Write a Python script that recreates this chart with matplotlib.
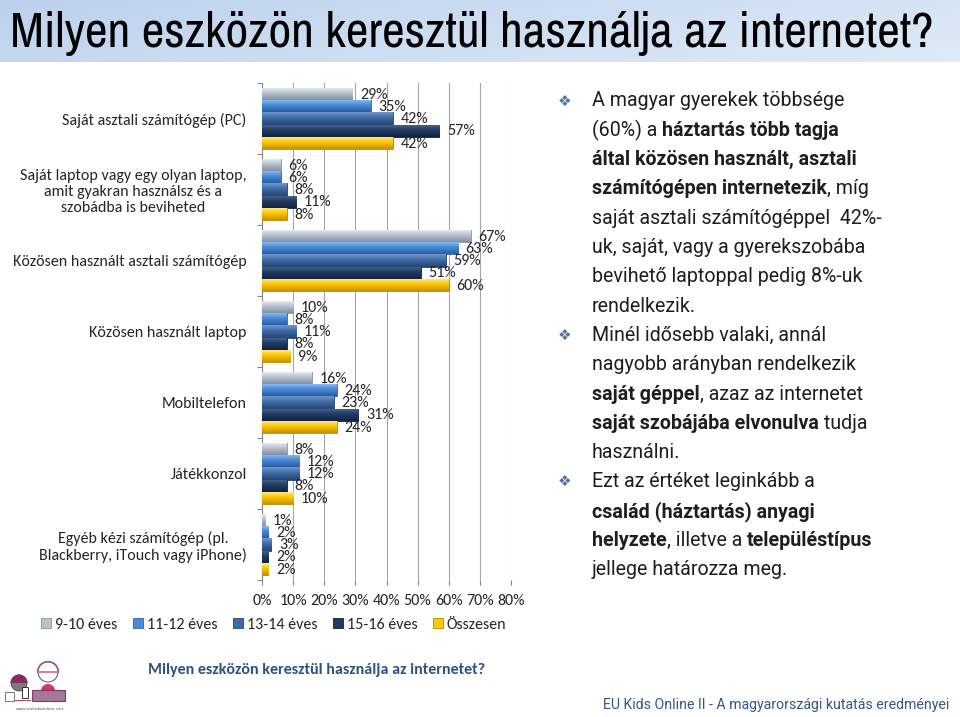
import matplotlib
matplotlib.use('Agg')
import matplotlib.pyplot as plt
import numpy as np
from matplotlib import font_manager
from matplotlib.patches import Patch, Circle, Rectangle, Wedge
from matplotlib.colors import LinearSegmentedColormap

# ---------------- data ----------------
categories = [
    "Saját asztali számítógép (PC)",
    "Saját laptop vagy egy olyan laptop,\namit gyakran használsz és a\nszobádba is beviheted",
    "Közösen használt asztali számítógép",
    "Közösen használt laptop",
    "Mobiltelefon",
    "Játékkonzol",
    "Egyéb kézi számítógép (pl.\nBlackberry, iTouch vagy iPhone)",
]
series_names = ["9-10 éves", "11-12 éves", "13-14 éves", "15-16 éves", "Összesen"]
age_9_10 = [29, 6, 67, 10, 16, 8, 1]
age_11_12 = [35, 6, 63, 8, 24, 12, 2]
age_13_14 = [42, 8, 59, 11, 23, 12, 3]
age_15_16 = [57, 11, 51, 8, 31, 8, 2]
osszesen = [42, 8, 60, 9, 24, 10, 2]
xtick_values = [0, 10, 20, 30, 40, 50, 60, 70, 80]
xtick_labels = ["0%", "10%", "20%", "30%", "40%", "50%", "60%", "70%", "80%"]

title = "Milyen eszközön keresztül használja az internetet?"
footer_title = "Milyen eszközön keresztül használja az internetet?"
footer_right = "EU Kids Online II - A magyarországi kutatás eredményei"

panel = [
    (True, [("A magyar gyerekek többsége", False)]),
    (False, [("(60%) a ", False), ("háztartás több tagja", True)]),
    (False, [("által közösen használt, asztali", True)]),
    (False, [("számítógépen internetezik", True), (", míg", False)]),
    (False, [("saját asztali számítógéppel  42%-", False)]),
    (False, [("uk, saját, vagy a gyerekszobába", False)]),
    (False, [("bevihető laptoppal pedig 8%-uk", False)]),
    (False, [("rendelkezik.", False)]),
    (True, [("Minél idősebb valaki, annál", False)]),
    (False, [("nagyobb arányban rendelkezik", False)]),
    (False, [("saját géppel", True), (", azaz az internetet", False)]),
    (False, [("saját szobájába elvonulva", True), (" tudja", False)]),
    (False, [("használni.", False)]),
    (True, [("Ezt az értéket leginkább a", False)]),
    (False, [("család (háztartás) anyagi", True)]),
    (False, [("helyzete", True), (", illetve a ", False), ("településtípus", True)]),
    (False, [("jellege határozza meg.", False)]),
]

# ---------------- fonts ----------------
available = {f.name for f in font_manager.fontManager.ttflist}
def pick(*names):
    for n in names:
        if n in available:
            return n
    return 'DejaVu Sans'
chart_font = pick('Carlito', 'Lato', 'Open Sans')
title_font = pick('Liberation Sans Narrow', 'Arimo Narrow', 'Archivo Narrow', 'Roboto Condensed')
panel_font = pick('Roboto', 'Liberation Sans')

W, H = 960, 717
fig = plt.figure(figsize=(9.6, 7.17), dpi=100)
renderer = fig.canvas.get_renderer()

def fx(px):
    return px / W
def fy(py):
    return 1 - py / H

# ---------------- title band ----------------
bg = fig.add_axes([0, fy(62), 1, 62 / H], zorder=0)
gx = np.linspace(0, 1, 200)[None, :]
gy = np.linspace(0, 1, 40)[:, None]
c_left = np.array([0.74, 0.82, 0.93])
c_right = np.array([0.87, 0.92, 0.97])
mix = np.clip(0.75 * gx + 0.25 * gy, 0, 1)[..., None]
img = c_left * (1 - mix) + c_right * mix
bg.imshow(img, aspect='auto', extent=[0, 1, 0, 1], interpolation='bilinear')
bg.axis('off')

def fit_text(x, y, s, target_w, **kw):
    t = fig.text(x, y, s, fontsize=20, **kw)
    w = t.get_window_extent(renderer).width
    t.set_fontsize(20 * target_w / w)
    return t

fit_text(fx(10), fy(34), title, 922, family=title_font, va='center', ha='left', color='black')

# ---------------- chart ----------------
FS = 11.5
ax = fig.add_axes([fx(262), fy(580), 249 / W, 497 / H], zorder=2)
data = [age_9_10, age_11_12, age_13_14, age_15_16, osszesen]
grads = [
    ('#eef1f5', '#b9c2d0', '#8390a4'),
    ('#8fc0f4', '#4a8bd8', '#2a5ea6'),
    ('#6f97c9', '#3e6aa5', '#244677'),
    ('#4c6890', '#213c62', '#12243f'),
    ('#fff0a0', '#ffc800', '#c89400'),
]
edges = ['#8a93a3', '#2f65a8', '#23446f', '#0f213a', '#b58a00']
mids = [g[1] for g in grads]
bar_h = 0.173
ypos = np.arange(len(categories))
for i, vals in enumerate(data):
    cm = LinearSegmentedColormap.from_list('g%d' % i, [(0, grads[i][0]), (0.45, grads[i][1]), (1, grads[i][2])])
    yy = ypos + (i - 2) * bar_h
    bars = ax.barh(yy, vals, height=bar_h, color=mids[i], edgecolor=edges[i], linewidth=0.6, zorder=3)
    grad = np.linspace(0, 1, 32)[:, None]
    for b in bars:
        x0, y0 = b.get_x(), b.get_y()
        im = ax.imshow(grad, extent=[x0, x0 + b.get_width(), y0 + b.get_height(), y0],
                       aspect='auto', cmap=cm, origin='upper', zorder=3.5, interpolation='bilinear')
        im.set_clip_path(b)
    for v, y in zip(vals, yy):
        ax.annotate(f"{v}%", xy=(v, y), xytext=(5.5, -0.5), textcoords='offset points',
                    va='center', ha='left', fontsize=FS, color='#262626', family=chart_font, zorder=5)

ax.set_xlim(0, 80)
ax.set_ylim(len(categories) - 0.5, -0.5)
ax.set_xticks(xtick_values)
ax.set_xticklabels(xtick_labels, fontsize=FS, color='#262626', family=chart_font)
ax.set_yticks(ypos)
ax.set_yticklabels(categories, fontsize=FS, color='#262626', family=chart_font, multialignment='center')
ax.set_yticks(np.arange(-0.5, len(categories), 1), minor=True)
ax.tick_params(axis='y', which='major', length=0, pad=11)
ax.tick_params(axis='y', which='minor', length=3.8, color='#868686', width=0.8)
ax.tick_params(axis='x', which='major', length=3.8, color='#868686', width=0.8, pad=6)
ax.xaxis.grid(True, color='#a6a6a6', linewidth=0.8)
ax.set_axisbelow(True)
for s in ['top', 'right', 'bottom']:
    ax.spines[s].set_visible(False)
ax.spines['left'].set_color('#868686')
ax.spines['left'].set_linewidth(0.8)
ax.set_facecolor('none')

handles = [Patch(facecolor=mids[i], edgecolor=edges[i], linewidth=0.6) for i in range(5)]
fig.legend(handles, series_names, loc='center', bbox_to_anchor=(fx(274), fy(625)), ncol=5,
           frameon=False, prop={'family': chart_font, 'size': FS}, labelcolor='#262626',
           handlelength=0.6, handleheight=0.6, handletextpad=0.25, columnspacing=1.0)

# ---------------- right panel ----------------
probe = fig.text(0.5, 0.5, "|", family=panel_font, fontsize=14)
def seg_width(s, size, bold):
    probe.set_fontsize(size)
    probe.set_fontweight('bold' if bold else 'normal')
    probe.set_text("|" + s + "|")
    w1 = probe.get_window_extent(renderer).width
    probe.set_text("||")
    w2 = probe.get_window_extent(renderer).width
    return w1 - w2

ref_w = seg_width("A magyar gyerekek többsége", 14, False)
psize = 14 * 255 / ref_w

line_y0, line_dy = 101, 29.3
for k, (bullet, segs) in enumerate(panel):
    y = line_y0 + k * line_dy
    if bullet:
        fig.text(fx(565), fy(y), "\u2756", family='DejaVu Sans', fontsize=11, color='#4d73a8',
                 ha='center', va='center')
    x = 592
    for s, b in segs:
        fig.text(fx(x), fy(y), s, family=panel_font, fontsize=psize,
                 fontweight='bold' if b else 'normal', color='#1e1e1e', ha='left', va='center')
        x += seg_width(s, psize, b)
probe.remove()

# ---------------- footer ----------------
fit_text(fx(148), fy(670), footer_title, 337, family=chart_font, fontweight='bold',
         color='#2f5283', ha='left', va='center')
fit_text(fx(603), fy(705), footer_right, 345, family=panel_font, color='#34578a',
         ha='left', va='center')

# ---------------- logo (decoration) ----------------
deco = fig.add_axes([0, 0, 1, 1], zorder=1)
deco.set_xlim(0, W)
deco.set_ylim(H, 0)
deco.axis('off')
deco.add_patch(Rectangle((5, 692), 9, 9, facecolor='white', edgecolor='#666666', linewidth=0.6))
deco.add_patch(Circle((19, 683), 8, facecolor='#7a7a7a', edgecolor='#444444', linewidth=0.6))
deco.add_patch(Wedge((19, 683), 8.5, 180, 360, facecolor='#8b2a5e', edgecolor='none'))
deco.add_patch(Rectangle((22, 687), 6, 11, facecolor='white', edgecolor='#333333', linewidth=0.7))
deco.plot([14, 30], [700, 700], color='#c0406a', linewidth=0.7)
deco.add_patch(Circle((48, 672), 10, facecolor='white', edgecolor='#555555', linewidth=0.7))
deco.add_patch(Wedge((48, 672), 10.5, 180, 360, facecolor='none', edgecolor='#c0507a', linewidth=1.0))
deco.add_patch(Wedge((48, 691), 7, 180, 360, facecolor='#d6336c', edgecolor='none'))
deco.add_patch(Rectangle((32, 690), 33, 11, facecolor='#a8789a', edgecolor='#7a3a60', linewidth=0.8))
deco.text(40, 709, "www.eukidsonline.net", fontsize=3.2, color='#555555', ha='center', va='center')

fig.savefig('out.png', dpi=100)
